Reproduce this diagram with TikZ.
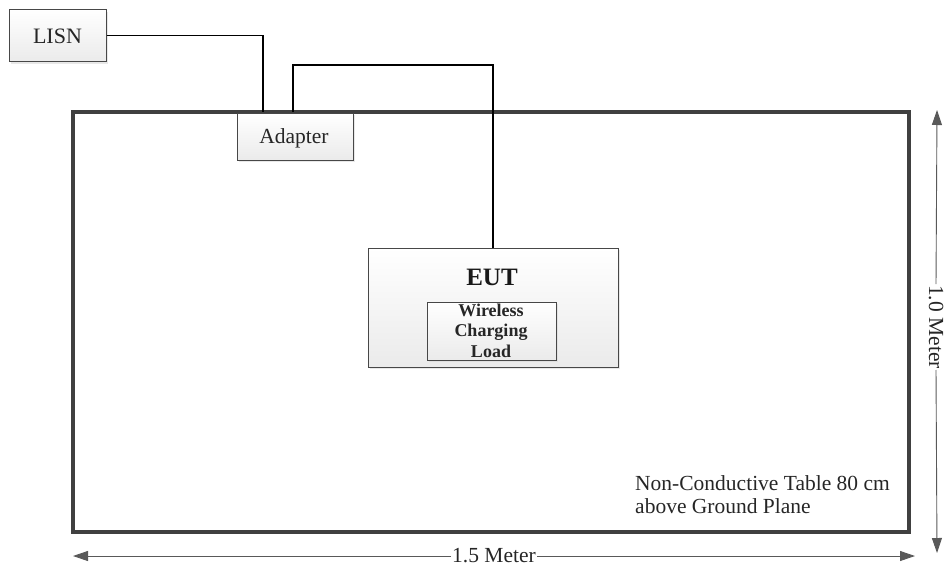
\documentclass[tikz,border=0pt]{standalone}
\usepackage{fontspec}
\setmainfont{Liberation Serif}
\usetikzlibrary{arrows.meta,shadows}
\begin{document}
\begin{tikzpicture}[x=1pt,y=-1pt,
  box/.style={draw=black!72,line width=1pt,top color=white,bottom color=black!8,
    drop shadow={shadow xshift=2pt,shadow yshift=-2pt,fill=black!15,opacity=0.6}},
  wire/.style={draw=black,line width=1.2pt},
  dim/.style={draw=black!65,line width=0.9pt},
  tip/.style={-{Triangle[length=15pt,width=10pt]}},
  lbl/.style={font=\fontsize{21.5}{24}\selectfont,inner sep=1pt,text=black!85}]
\useasboundingbox (0,0) rectangle (944,568);
% table
\draw[line width=4pt,draw=black!75] (73,112) rectangle (909,532);
% boxes
\node[box,minimum width=97pt,minimum height=52pt] (lisn) at (57.5,35.5) {};
\node[lbl,anchor=base,font=\fontsize{22}{24}\selectfont] (lisnlbl) at (57.5,43) {LISN};
\node[box,minimum width=116pt,minimum height=47pt] (adapter) at (295,136.5) {};
\node[lbl,anchor=base] (adapterlbl) at (294,143) {Adapter};
\node[box,minimum width=250pt,minimum height=119pt,inner sep=0pt] (eut) at (493,307.5) {};
\node[font=\bfseries\fontsize{25}{28}\selectfont,anchor=base,text=black!90] (eutlbl) at (492,285) {EUT};
\node[box,minimum width=129pt,minimum height=58pt,inner sep=0pt] (load) at (491.5,331) {};
\node[font=\bfseries\fontsize{18}{20.5}\selectfont,align=center,inner sep=0pt,text=black!85,anchor=base] (loadlbl) at (491,357) {Wireless\\Charging\\Load};
% wires
\coordinate (a1) at (263,112);
\coordinate (a2) at (293,112);
\draw[wire] (lisn.east) -| (a1);
\draw[wire] (a2) |- (493,65) -- (eut.north);
% note
\node[lbl,align=left,anchor=base west,font=\fontsize{21.5}{23}\selectfont] (note) at (634,513) {Non-Conductive Table 80 cm\\above Ground Plane};
% dimensions
\node[lbl,rotate=-90] (vlab) at (936,327) {1.0 Meter};
\coordinate (vt) at (937,110);
\coordinate (vb) at (937,553);
\draw[dim,tip] (vlab.west) -- (vt);
\draw[dim,tip] (vlab.east) -- (vb);
\node[lbl] (hlab) at (494,556) {1.5 Meter};
\coordinate (hl) at (73,556);
\coordinate (hr) at (915,556);
\draw[dim,tip] (hlab.west) -- (hl);
\draw[dim,tip] (hlab.east) -- (hr);
\end{tikzpicture}
\end{document}
